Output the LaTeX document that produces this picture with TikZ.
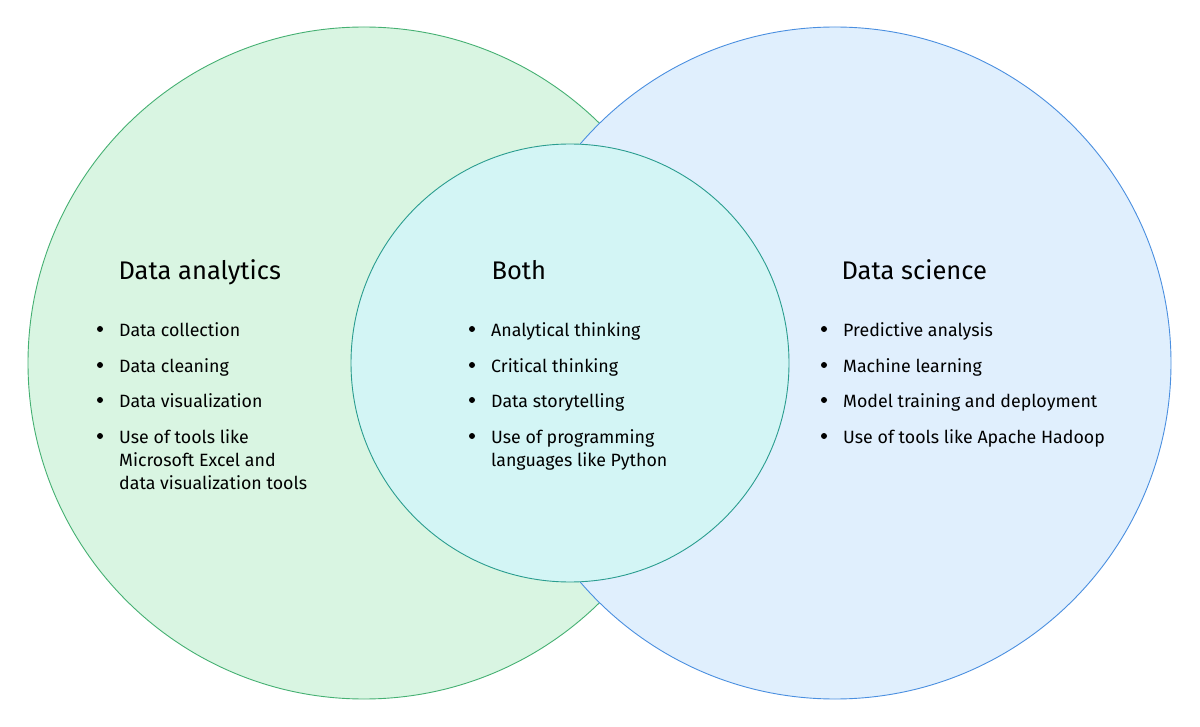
\documentclass[tikz,border=0pt]{standalone}
\usepackage{fontspec}
\setmainfont{Fira Sans}
\begin{document}
\begin{tikzpicture}[x=1pt,y=-1pt,
  ttl/.style={anchor=base west,font=\fontsize{25.5}{30}\selectfont},
  itm/.style={anchor=north west,align=left,font=\fontsize{17.8}{23}\selectfont,inner sep=0pt},
  bul/.style={circle,fill=black,inner sep=0pt,minimum size=6pt}]
\useasboundingbox (0,0) rectangle (1200,727);
\fill[white] (0,0) rectangle (1200,727);
\definecolor{gf}{HTML}{D9F5E2}\definecolor{gs}{HTML}{45B072}
\definecolor{bf}{HTML}{E0EFFD}\definecolor{bs}{HTML}{4A8FE0}
\definecolor{tf}{HTML}{D3F5F5}\definecolor{ts}{HTML}{2A9D8F}
\draw[gs,fill=gf,line width=0.9pt] (364,363) circle (336);
\draw[bs,fill=bf,line width=0.9pt] (835,363) circle (336);
\draw[ts,fill=tf,line width=0.9pt] (570,363) circle (219);
\node[ttl] (t1) at (115,280) {Data analytics};
\node[ttl] (t2) at (488,280) {Both};
\node[ttl] (t3) at (838,280) {Data science};
\foreach \x/\pre/\a/\b/\c/\d in {
 119/L/Data collection/Data cleaning/Data visualization/{Use of tools like\\Microsoft Excel and\\data visualization tools},
 491/M/Analytical thinking/Critical thinking/Data storytelling/{Use of programming\\languages like Python},
 843/R/Predictive analysis/Machine learning/Model training and deployment/Use of tools like Apache Hadoop}{
  \node[itm] (\pre1) at (\x,322) {\a};
  \node[itm] (\pre2) at (\x,358) {\b};
  \node[itm] (\pre3) at (\x,393) {\c};
  \node[itm] (\pre4) at (\x,429) {\d};
  \foreach \y in {329,365,400,436} \node[bul] at (\x-19,\y) {};
}
\end{tikzpicture}
\end{document}
